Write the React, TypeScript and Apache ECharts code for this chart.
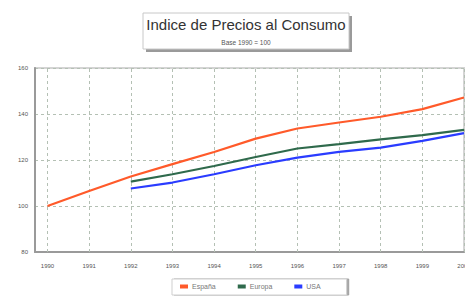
import React, { useEffect, useRef } from "react";
import * as echarts from "echarts";

const years = [1990, 1991, 1992, 1993, 1994, 1995, 1996, 1997, 1998, 1999, 2000];
const espana = [100, 106.5, 112.8, 118.2, 123.5, 129.3, 133.7, 136.3, 138.8, 142.1, 147.2];
const europa = [null, null, 110.6, 113.8, 117.4, 121.3, 125.0, 126.9, 129.0, 130.8, 133.1];
const usa = [null, null, 107.6, 110.2, 113.8, 117.7, 121.0, 123.5, 125.4, 128.3, 131.7];
const yTicks = [80, 100, 120, 140, 160];

const FONT = "Liberation Sans, Arial, sans-serif";

export default function App() {
  const ref = useRef<HTMLDivElement>(null);
  useEffect(() => {
    const chart = echarts.init(ref.current!, null, { renderer: "svg" });
    const pair = (arr: (number | null)[]) => years.map((y, i) => [y, arr[i]]);
    chart.setOption({
      animation: false,
      backgroundColor: "#ffffff",
      textStyle: { fontFamily: FONT },
      grid: {
        left: 35, right: 1, top: 68, bottom: 44,
        outerBoundsMode: "none",
        containLabel: false,
        show: true, borderColor: "#d4d4d4", borderWidth: 2, backgroundColor: "#fff",
      },
      xAxis: {
        type: "value",
        min: 1989.7,
        max: 2000,
        axisLine: { show: true, onZero: false, lineStyle: { color: "#9a9a9a", width: 2 } },
        axisTick: { show: true, customValues: years, length: 3, inside: true, lineStyle: { color: "#888" } },
        axisLabel: { customValues: years, fontSize: 6, color: "#555", margin: 11, hideOverlap: false, formatter: (v: number) => String(v) },
        splitLine: { show: false },
      },
      yAxis: {
        type: "value",
        min: 80,
        max: 160,
        interval: 20,
        axisLine: { show: true, lineStyle: { color: "#9a9a9a", width: 2 } },
        axisTick: { show: false },
        axisLabel: { fontSize: 6, color: "#555", margin: 7, formatter: (v: number) => (yTicks.includes(v) ? String(v) : "") },
        splitLine: { show: true, lineStyle: { color: "#b4c0b4", type: [3, 3], width: 1 } },
      },
      legend: {
        left: 172,
        top: 279,
        orient: "horizontal",
        itemWidth: 8,
        itemHeight: 4,
        itemGap: 22,
        padding: [4, 26, 5, 8],
        backgroundColor: "#fff",
        borderColor: "#cfcfcf",
        borderWidth: 1,
        shadowColor: "#a0a0a0",
        shadowOffsetX: 2,
        shadowOffsetY: 0,
        shadowBlur: 0,
        textStyle: { fontSize: 7, color: "#777", fontFamily: FONT, padding: [0, 0, 0, -1] },
        icon: "rect",
        data: ["España", "Europa", "USA"],
      },
      graphic: [
        { type: "rect", shape: { x: 146, y: 16, width: 206, height: 36 }, style: { fill: "#9a9a9a" }, z: 10 },
        { type: "rect", shape: { x: 143, y: 13, width: 206, height: 36 }, style: { fill: "#fff", stroke: "#c8c8c8", lineWidth: 1 }, z: 11 },
        { type: "text", x: 246, y: 24, style: { text: "Indice de Precios al Consumo", fontSize: 15, fill: "#333", fontFamily: FONT, align: "center", verticalAlign: "middle" }, z: 12 },
        { type: "text", x: 246, y: 42, style: { text: "Base 1990 = 100", fontSize: 6.5, fill: "#555", fontFamily: FONT, align: "center", verticalAlign: "middle" }, z: 12 },
      ],
      series: [
        {
          name: "España",
          type: "line",
          data: pair(espana),
          symbol: "none",
          lineStyle: { color: "#ff5a2a", width: 2.2 },
          itemStyle: { color: "#ff5a2a" },
          z: 5,
          markLine: {
            silent: true,
            symbol: "none",
            label: { show: false },
            lineStyle: { color: "#b4c0b4", type: [3, 3], width: 1 },
            data: years.map((y) => ({ xAxis: y })),
            z: 1,
          },
        },
        {
          name: "Europa",
          type: "line",
          data: pair(europa),
          symbol: "none",
          lineStyle: { color: "#2f6a4c", width: 2.2 },
          itemStyle: { color: "#2f6a4c" },
          z: 4,
        },
        {
          name: "USA",
          type: "line",
          data: pair(usa),
          symbol: "none",
          lineStyle: { color: "#2a3cff", width: 2.2 },
          itemStyle: { color: "#2a3cff" },
          z: 3,
        },
      ],
    });
    return () => chart.dispose();
  }, []);
  return <div ref={ref} style={{ width: 465, height: 296, position: "absolute", left: 0, top: 0 }} />;
}
